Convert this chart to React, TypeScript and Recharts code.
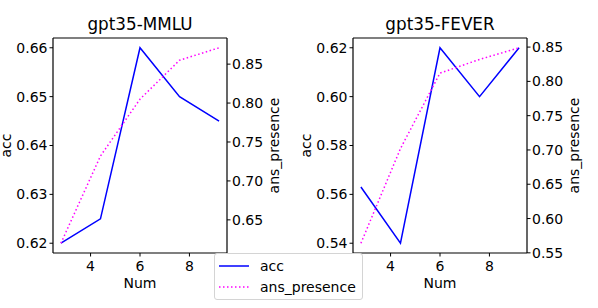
import React from 'react';
import { LineChart, Line, XAxis, YAxis } from 'recharts';

const nums = [2.8, 4.4, 6.0, 7.6, 9.2];
const xTicks = [4, 6, 8];

const mmluAcc = [0.62, 0.625, 0.66, 0.65, 0.645];
const mmluAns = [0.62, 0.732, 0.805, 0.855, 0.871];
const mmluAccTicks = [0.62, 0.63, 0.64, 0.65, 0.66];
const mmluAnsTicks = [0.65, 0.7, 0.75, 0.8, 0.85];

const feverAcc = [0.563, 0.54, 0.62, 0.6, 0.62];
const feverAns = [0.564, 0.702, 0.812, 0.832, 0.849];
const feverAccTicks = [0.54, 0.56, 0.58, 0.6, 0.62];
const feverAnsTicks = [0.55, 0.6, 0.65, 0.7, 0.75, 0.8, 0.85];

const seriesNames = ['acc', 'ans_presence'];
const ACC_COLOR = '#0000ff';
const ANS_COLOR = '#ff00ff';
const FONT = '"DejaVu Sans", sans-serif';

const pad = (arr: number[]): [number, number] => {
  const mn = Math.min(...arr);
  const mx = Math.max(...arr);
  const r = mx - mn;
  return [mn - 0.05 * r, mx + 0.05 * r];
};

const xDomain = pad(nums);

type PanelProps = {
  title: string;
  acc: number[];
  ans: number[];
  accTicks: number[];
  ansTicks: number[];
  left: number;
};

function Panel({ title, acc, ans, accTicks, ansTicks, left }: PanelProps) {
  const data = nums.map((n, i) => ({ num: n, acc: acc[i], ans: ans[i] }));
  const tickStyle = { fill: '#000', fontSize: 14, fontFamily: FONT };
  const axisLine = { stroke: '#000', strokeWidth: 1.2 };
  const tickLine = { stroke: '#000', strokeWidth: 1 };
  return (
    <div style={{ position: 'absolute', left, top: 0 }}>
      <LineChart
        width={300}
        height={308}
        data={data}
        margin={{ top: 37, right: 0, bottom: 25, left: 0 }}
      >
        <XAxis
          xAxisId="b"
          type="number"
          dataKey="num"
          domain={xDomain}
          allowDataOverflow
          ticks={xTicks}
          height={30}
          tickSize={3.5}
          tickMargin={4.5}
          tick={tickStyle}
          tickLine={tickLine}
          axisLine={axisLine}
          label={{
            content: (p: any) => {
              const vb = p.viewBox || {};
              return (
                <text
                  x={vb.x + vb.width / 2}
                  y={vb.y + 35}
                  textAnchor="middle"
                  fontSize={14}
                  fontFamily={FONT}
                  fill="#000"
                >
                  Num
                </text>
              );
            },
          }}
        />
        <XAxis
          xAxisId="t"
          orientation="top"
          type="number"
          dataKey="num"
          domain={xDomain}
          allowDataOverflow
          height={1}
          ticks={xTicks}
          tick={false}
          tickLine={false}
          axisLine={axisLine}
          label={{
            content: (p: any) => {
              const vb = p.viewBox || {};
              return (
                <text
                  x={vb.x + vb.width / 2}
                  y={vb.y + vb.height - 8}
                  textAnchor="middle"
                  fontSize={16.8}
                  fontFamily={FONT}
                  fill="#000"
                >
                  {title}
                </text>
              );
            },
          }}
        />
        <YAxis
          yAxisId="l"
          orientation="left"
          type="number"
          domain={pad(acc)}
          allowDataOverflow
          ticks={accTicks}
          width={53}
          tickSize={3.5}
          tickMargin={2}
          tick={tickStyle}
          tickLine={tickLine}
          axisLine={axisLine}
          tickFormatter={(v: number) => v.toFixed(2)}
          label={{
            content: (p: any) => {
              const vb = p.viewBox || {};
              const cx = vb.x + 11;
              const cy = vb.y + vb.height / 2;
              return (
                <text
                  x={cx}
                  y={cy}
                  transform={`rotate(-90, ${cx}, ${cy})`}
                  textAnchor="middle"
                  fontSize={14}
                  fontFamily={FONT}
                  fill="#000"
                >
                  acc
                </text>
              );
            },
          }}
        />
        <YAxis
          yAxisId="r"
          orientation="right"
          type="number"
          domain={pad(ans)}
          allowDataOverflow
          ticks={ansTicks}
          width={73}
          tickSize={3.5}
          tickMargin={1.5}
          tick={tickStyle}
          tickLine={tickLine}
          axisLine={axisLine}
          tickFormatter={(v: number) => v.toFixed(2)}
          label={{
            content: (p: any) => {
              const vb = p.viewBox || {};
              const cx = vb.x + 52;
              const cy = vb.y + vb.height / 2;
              return (
                <text
                  x={cx}
                  y={cy}
                  transform={`rotate(-90, ${cx}, ${cy})`}
                  textAnchor="middle"
                  fontSize={14}
                  fontFamily={FONT}
                  fill="#000"
                >
                  ans_presence
                </text>
              );
            },
          }}
        />
        <Line
          xAxisId="t"
          yAxisId="l"
          type="linear"
          dataKey="acc"
          stroke="none"
          strokeWidth={0}
          dot={false}
          activeDot={false}
          isAnimationActive={false}
        />
        <Line
          xAxisId="b"
          yAxisId="l"
          type="linear"
          dataKey="acc"
          stroke={ACC_COLOR}
          strokeWidth={1.5}
          dot={false}
          isAnimationActive={false}
        />
        <Line
          xAxisId="b"
          yAxisId="r"
          type="linear"
          dataKey="ans"
          stroke={ANS_COLOR}
          strokeWidth={1.5}
          strokeDasharray="1.5 2.5"
          dot={false}
          isAnimationActive={false}
        />
      </LineChart>
    </div>
  );
}

function LegendBox() {
  const items = [
    { name: seriesNames[0], color: ACC_COLOR, dash: undefined as string | undefined },
    { name: seriesNames[1], color: ANS_COLOR, dash: '1.5 2.5' },
  ];
  return (
    <div
      style={{
        position: 'absolute',
        left: 214,
        top: 253,
        width: 149,
        height: 47,
        boxSizing: 'border-box',
        border: '1px solid #d4d4d4',
        borderRadius: 3,
        background: 'rgba(255,255,255,0.8)',
        fontFamily: FONT,
        fontSize: 14,
        color: '#000',
      }}
    >
      {items.map((it, i) => (
        <div
          key={it.name}
          style={{
            position: 'absolute',
            left: 0,
            top: 2 + i * 20.5,
            height: 20,
            display: 'flex',
            alignItems: 'center',
          }}
        >
          <svg width={45} height={20} style={{ display: 'block' }}>
            <line
              x1={4}
              x2={34}
              y1={10}
              y2={10}
              stroke={it.color}
              strokeWidth={1.5}
              strokeDasharray={it.dash}
            />
          </svg>
          <span style={{ lineHeight: '20px', whiteSpace: 'nowrap' }}>{it.name}</span>
        </div>
      ))}
    </div>
  );
}

export default function App() {
  return (
    <div
      style={{
        position: 'absolute',
        left: 0,
        top: 0,
        width: 598,
        height: 308,
        overflow: 'hidden',
        background: '#fff',
      }}
    >
      <Panel
        title="gpt35-MMLU"
        acc={mmluAcc}
        ans={mmluAns}
        accTicks={mmluAccTicks}
        ansTicks={mmluAnsTicks}
        left={0}
      />
      <Panel
        title="gpt35-FEVER"
        acc={feverAcc}
        ans={feverAns}
        accTicks={feverAccTicks}
        ansTicks={feverAnsTicks}
        left={300}
      />
      <LegendBox />
    </div>
  );
}
